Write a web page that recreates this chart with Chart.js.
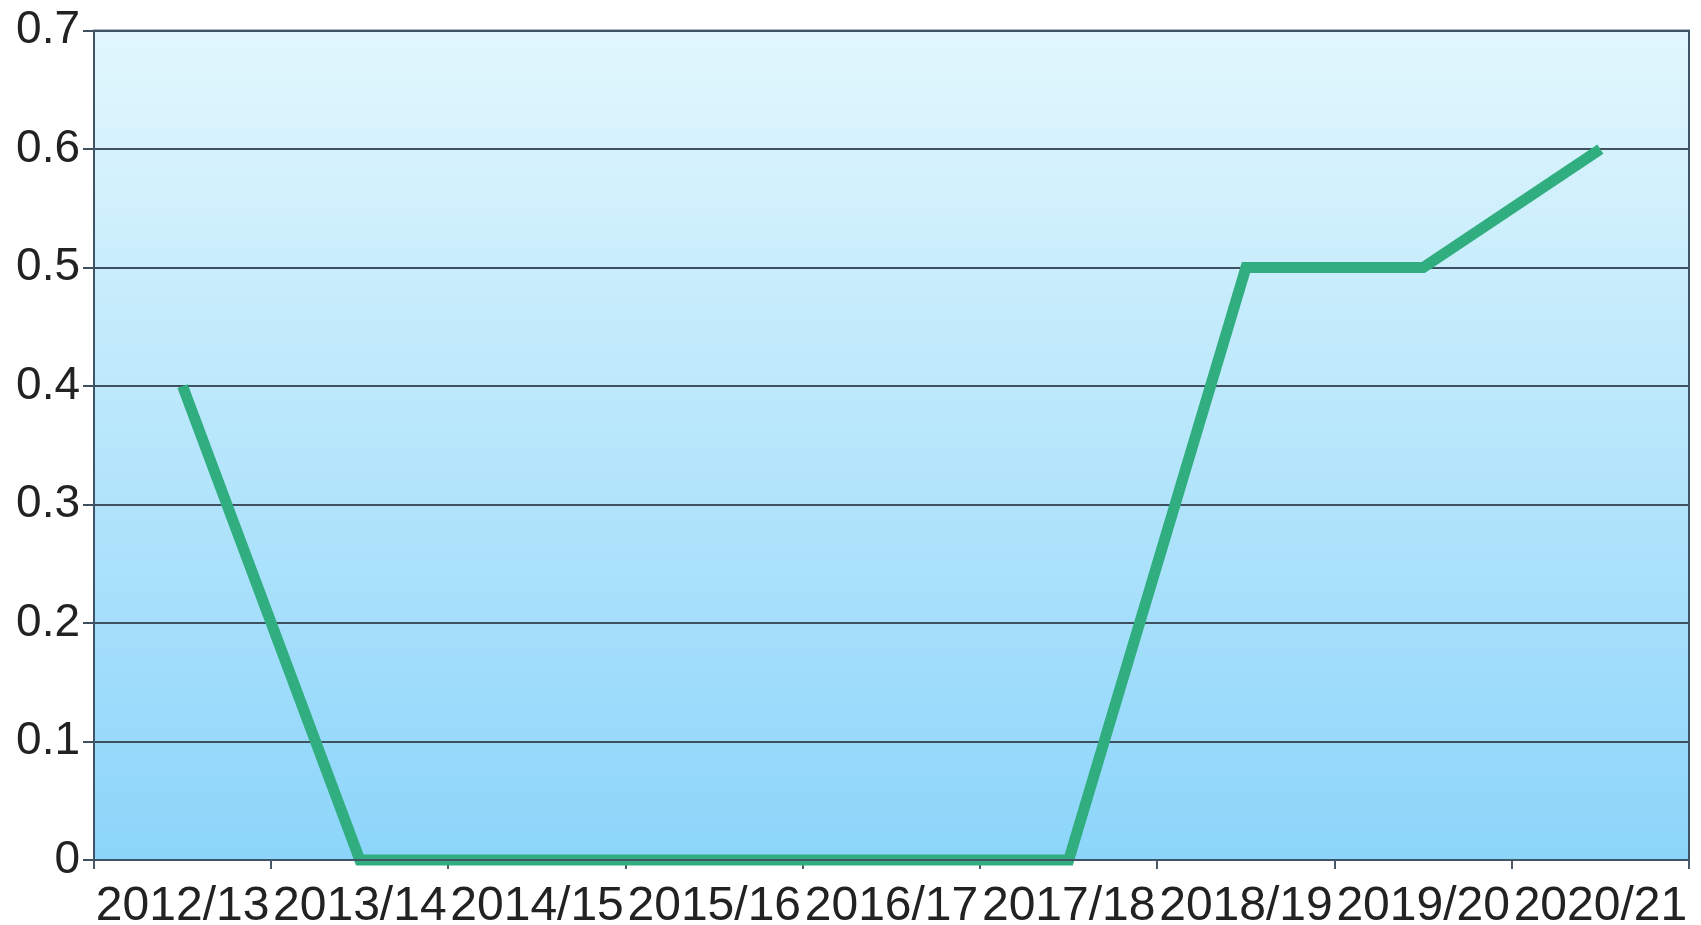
<!DOCTYPE html>
<html>
<head>
<meta charset="utf-8">
<script src="https://cdn.jsdelivr.net/npm/chart.js@4/dist/chart.umd.min.js"></script>
<style>
  html, body { margin: 0; padding: 0; background: #fff; }
  #wrap { width: 1701px; height: 925px; }
</style>
</head>
<body>
<div id="wrap"><canvas id="lineChart"></canvas></div>
<script>
// data
const seasons = ["2012/13", "2013/14", "2014/15", "2015/16", "2016/17", "2017/18", "2018/19", "2019/20", "2020/21"];
const values = [0.4, 0, 0, 0, 0, 0, 0.5, 0.5, 0.6];
const yTicks = [0, 0.1, 0.2, 0.3, 0.4, 0.5, 0.6, 0.7];

// gradient behind the plot + frame
const plotBg = {
  id: "plotBg",
  beforeDraw(chart) {
    const a = chart.chartArea, c = chart.ctx;
    const g = c.createLinearGradient(0, a.top, 0, a.bottom);
    g.addColorStop(0, "#e2f7fd");
    g.addColorStop(1, "#8cd5fa");
    c.save();
    c.fillStyle = g;
    c.fillRect(a.left, a.top, a.right - a.left, a.bottom - a.top);
    c.restore();
  },
  afterDatasetsDraw(chart) {
    const a = chart.chartArea, c = chart.ctx;
    c.save();
    c.strokeStyle = "#3f5466";
    c.lineWidth = 2;
    c.strokeRect(a.left, a.top, a.right - a.left, a.bottom - a.top);
    c.restore();
  }
};

const ctx = document.getElementById("lineChart").getContext("2d");
new Chart(ctx, {
  type: "line",
  data: {
    labels: seasons,
    datasets: [{
      data: values,
      borderColor: "#30ae7f",
      borderWidth: 11,
      pointRadius: 0,
      tension: 0,
      borderJoinStyle: "miter",
      borderCapStyle: "butt",
      clip: false
    }]
  },
  options: {
    responsive: true,
    maintainAspectRatio: false,
    animation: false,
    layout: { padding: { top: 30, right: 12, left: 0, bottom: 0 } },
    plugins: { legend: { display: false }, tooltip: { enabled: false } },
    scales: {
      x: {
        offset: true,
        grid: {
          offset: true,
          drawOnChartArea: false,
          drawTicks: true,
          tickLength: 9,
          color: "#4a5a68",
          lineWidth: 2
        },
        border: { display: false },
        ticks: {
          color: "#222",
          maxRotation: 0,
          autoSkip: false,
          padding: 9,
          font: { family: "Liberation Sans, Arial", size: 48 }
        },
        afterFit(s) { s.height = 65; }
      },
      y: {
        min: 0,
        max: 0.7,
        afterBuildTicks(s) { s.ticks = yTicks.map(v => ({ value: v })); },
        grid: {
          color: "#3f5060",
          lineWidth: 2,
          tickLength: 11
        },
        border: { display: false },
        ticks: {
          color: "#222",
          padding: 3,
          font: { family: "Liberation Sans, Arial", size: 46 }
        },
        afterFit(s) { s.width = 94; }
      }
    }
  },
  plugins: [plotBg]
});
</script>
</body>
</html>
